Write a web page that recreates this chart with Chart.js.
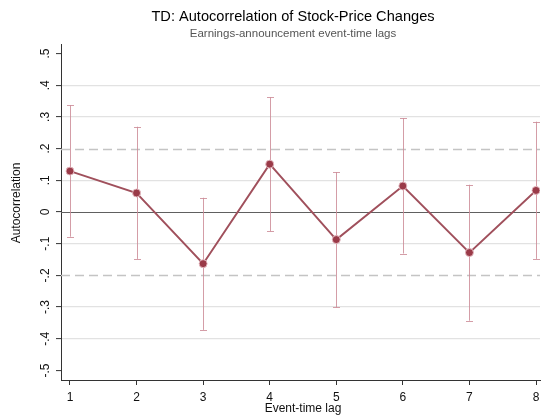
<!DOCTYPE html>
<html>
<head>
<meta charset="utf-8">
<script src="https://cdn.jsdelivr.net/npm/chart.js@4"></script>
<style>
html,body{margin:0;padding:0;background:#fff;}
#wrap{width:541px;height:419px;position:relative;}
</style>
</head>
<body>
<div id="wrap"><canvas id="c" width="541" height="419"></canvas></div>
<script>
// ---- data ----
const lags = [1, 2, 3, 4, 5, 6, 7, 8];
const autocorr = [0.129, 0.060, -0.163, 0.151, -0.087, 0.082, -0.128, 0.068];
const ciLow = [-0.078, -0.148, -0.372, -0.061, -0.301, -0.131, -0.343, -0.148];
const ciHigh = [0.337, 0.269, 0.045, 0.362, 0.126, 0.296, 0.086, 0.285];
const yTickValues = [-0.5, -0.4, -0.3, -0.2, -0.1, 0, 0.1, 0.2, 0.3, 0.4, 0.5];
const yTickLabels = ['-.5', '-.4', '-.3', '-.2', '-.1', '0', '.1', '.2', '.3', '.4', '.5'];
const xTickValues = [1, 2, 3, 4, 5, 6, 7, 8];
const refDashed = [-0.2, 0.2];
const refSolid = [0];
const titleText = 'TD: Autocorrelation of Stock-Price Changes';
const subtitleText = 'Earnings-announcement event-time lags';
const yTitle = 'Autocorrelation';
const xTitle = 'Event-time lag';

const FONT = '"Liberation Sans", Arial, Helvetica, sans-serif';
const near = (a, b) => Math.abs(a - b) < 1e-6;

const custom = {
  id: 'custom',
  beforeDatasetsDraw(chart) {
    const ctx = chart.ctx, x = chart.scales.x, y = chart.scales.y;
    const a = chart.chartArea;
    ctx.save();
    // dashed reference lines
    ctx.strokeStyle = '#c4c4c4';
    ctx.lineWidth = 1.3;
    ctx.setLineDash([9, 5]);
    refDashed.forEach(v => {
      const py = Math.round(y.getPixelForValue(v)) + 0.5;
      ctx.beginPath(); ctx.moveTo(a.left, py); ctx.lineTo(a.right, py); ctx.stroke();
    });
    ctx.setLineDash([]);
    ctx.strokeStyle = '#606060';
    ctx.lineWidth = 1.1;
    refSolid.forEach(v => {
      const py = Math.round(y.getPixelForValue(v)) + 0.5;
      ctx.beginPath(); ctx.moveTo(a.left, py); ctx.lineTo(a.right, py); ctx.stroke();
    });
    // error bars
    ctx.strokeStyle = 'rgba(205,140,152,0.85)';
    ctx.lineWidth = 1;
    lags.forEach((l, i) => {
      const px = Math.round(x.getPixelForValue(l)) + 0.5;
      const pl = y.getPixelForValue(ciLow[i]);
      const ph = y.getPixelForValue(ciHigh[i]);
      ctx.beginPath();
      ctx.moveTo(px, pl); ctx.lineTo(px, ph);
      ctx.moveTo(px - 3.5, Math.round(pl) + 0.5); ctx.lineTo(px + 3.5, Math.round(pl) + 0.5);
      ctx.moveTo(px - 3.5, Math.round(ph) + 0.5); ctx.lineTo(px + 3.5, Math.round(ph) + 0.5);
      ctx.stroke();
    });
    ctx.restore();
  },
  afterDraw(chart) {
    const ctx = chart.ctx, y = chart.scales.y;
    ctx.save();
    ctx.fillStyle = '#000';
    ctx.textAlign = 'center';
    ctx.textBaseline = 'middle';
    ctx.font = '14.6px ' + FONT;
    ctx.fillText(titleText, 293, 17);
    ctx.fillStyle = '#555';
    ctx.font = '11.5px ' + FONT;
    ctx.fillText(subtitleText, 293, 34);
    // y tick labels rotated
    ctx.fillStyle = '#111';
    ctx.font = '12px ' + FONT;
    yTickValues.forEach((v, i) => {
      const py = y.getPixelForValue(v);
      ctx.save();
      ctx.translate(46, py);
      ctx.rotate(-Math.PI / 2);
      ctx.fillText(yTickLabels[i], 0, 0);
      ctx.restore();
    });
    // y title
    ctx.save();
    ctx.translate(17, 203);
    ctx.rotate(-Math.PI / 2);
    ctx.fillText(yTitle, 0, 0);
    ctx.restore();
    // x title
    ctx.fillText(xTitle, 303, 409);
    ctx.restore();
  }
};

new Chart(document.getElementById('c'), {
  type: 'line',
  data: {
    datasets: [{
      data: lags.map((l, i) => ({ x: l, y: autocorr[i] })),
      borderColor: '#a0505c',
      borderWidth: 1.9,
      backgroundColor: '#9a3a48',
      pointBackgroundColor: '#9a3a48',
      pointBorderColor: 'rgba(230,190,196,0.9)',
      pointBorderWidth: 1,
      pointRadius: 4,
      tension: 0
    }]
  },
  plugins: [custom],
  options: {
    responsive: false,
    animation: false,
    devicePixelRatio: 1,
    layout: { autoPadding: false, padding: { left: 0, right: 1, top: 44, bottom: 0 } },
    plugins: { legend: { display: false }, title: { display: false }, tooltip: { enabled: false } },
    scales: {
      x: {
        type: 'linear',
        min: 0.865,
        max: 8.06,
        afterBuildTicks: s => { s.ticks = xTickValues.map(v => ({ value: v })); },
        afterFit: s => { s.height = 39; s.paddingLeft = 0; s.paddingRight = 0; },
        grid: { drawOnChartArea: false, drawTicks: true, tickLength: 5, tickColor: '#333', tickWidth: 1 },
        border: { display: true, color: '#333', width: 1 },
        ticks: { color: '#111', font: { size: 12, family: FONT }, padding: 5, maxRotation: 0, autoSkip: false,
                 callback: v => String(v) }
      },
      y: {
        type: 'linear',
        min: -0.53,
        max: 0.53,
        afterBuildTicks: s => { s.ticks = yTickValues.map(v => ({ value: v })); },
        afterFit: s => { s.width = 61; s.paddingTop = 0; s.paddingBottom = 0; },
        grid: {
          drawOnChartArea: true, drawTicks: true, tickLength: 5, tickColor: '#333', tickWidth: 1,
          lineWidth: 1.2,
          color: c => {
            const v = c.tick ? c.tick.value : null;
            if (v === null) return 'rgba(0,0,0,0)';
            if (near(v, 0) || near(Math.abs(v), 0.2) || near(Math.abs(v), 0.5)) return 'rgba(0,0,0,0)';
            return '#e2e2e2';
          }
        },
        border: { display: true, color: '#333', width: 1 },
        ticks: { display: false }
      }
    }
  }
});
</script>
</body>
</html>
